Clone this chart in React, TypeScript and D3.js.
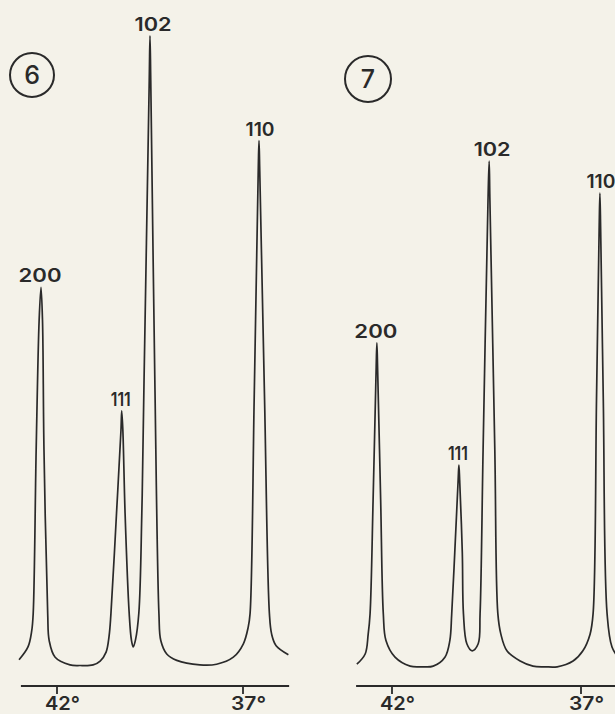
import React, { useRef, useEffect } from "react";
import * as d3 from "d3";

const WIDTH = 615;
const HEIGHT = 714;

// diffraction traces: [2theta (deg), intensity (0-100)]
const pattern6: [number, number][] = [
    [43.02, 1.6], [42.78, 3.6], [42.68, 6.1], [42.64, 8.8], [42.56, 34.4], [42.48, 54.7],
    [42.43, 59.8], [42.39, 54.7], [42.35, 34.4], [42.25, 8.8], [42.21, 4.6], [42.05, 2.0],
    [41.65, 0.8], [41.38, 0.7], [41.03, 0.8], [40.84, 1.4], [40.68, 2.8], [40.60, 5.3],
    [40.55, 8.8], [40.40, 24.5], [40.28, 37.5], [40.26, 40.5], [40.23, 37.5], [40.17, 24.5],
    [40.06, 8.9], [40.00, 4.7], [39.95, 3.6], [39.89, 4.7], [39.80, 8.9], [39.72, 24.5],
    [39.66, 45.3], [39.52, 92.2], [39.50, 99.1], [39.48, 92.2], [39.37, 45.3], [39.26, 8.8],
    [39.21, 4.6], [39.05, 2.5], [38.78, 1.5], [38.16, 0.8], [37.71, 0.9], [37.26, 2.0],
    [36.99, 4.1], [36.86, 6.7], [36.81, 8.8], [36.70, 42.2], [36.59, 78.1], [36.57, 82.7],
    [36.55, 78.1], [36.42, 42.2], [36.29, 8.8], [36.23, 5.6], [36.11, 3.8], [35.78, 2.4],
];

const pattern7: [number, number][] = [
    [42.93, 0.9], [42.71, 2.5], [42.63, 5.6], [42.58, 8.8], [42.50, 26.6], [42.42, 46.9],
    [42.40, 51.1], [42.38, 46.9], [42.30, 26.6], [42.23, 8.8], [42.16, 4.6], [41.92, 2.0],
    [41.52, 0.6], [41.21, 0.5], [40.91, 0.6], [40.60, 2.0], [40.47, 4.6], [40.42, 8.8],
    [40.34, 18.3], [40.25, 29.7], [40.23, 32.0], [40.21, 29.7], [40.14, 18.3], [40.11, 8.8],
    [40.02, 4.1], [39.88, 3.0], [39.72, 4.1], [39.67, 8.8], [39.59, 34.4], [39.46, 73.4],
    [39.43, 79.5], [39.41, 73.4], [39.28, 34.4], [39.20, 8.8], [39.12, 5.6], [38.96, 3.0],
    [38.61, 1.4], [38.27, 0.6], [37.95, 0.5], [37.63, 0.5], [37.21, 1.4], [36.95, 3.0],
    [36.76, 5.6], [36.68, 8.8], [36.59, 42.2], [36.52, 68.8], [36.50, 74.5], [36.48, 68.8],
    [36.41, 42.2], [36.31, 8.8], [36.18, 3.6], [35.97, 1.6],
];

// reflections (hkl) and the 2theta of their apex
const reflections = ["200", "111", "102", "110"];
const peaks6 = [42.43, 40.26, 39.50, 36.57];
const peaks7 = [42.40, 40.23, 39.43, 36.50];

const tickValues = [42, 37];

const panels = [
    { id: "6", data: pattern6, peaks: peaks6, t42: 57, t37: 243, from: 42.97, to: 35.76, cx: 32, cy: 75, r: 22 },
    { id: "7", data: pattern7, peaks: peaks7, t42: 392, t37: 581, from: 42.95, to: 35.5, cx: 368, cy: 79, r: 23 },
];

const INK = "#2a2a2a";
const FONT = "Inter, 'DejaVu Sans', sans-serif";
const labelWidth: Record<string, number> = { "200": 43, "111": 20, "102": 37, "110": 29 };
const labelShift: Record<string, number> = { "200": -1, "111": -1, "102": 3, "110": 1 };

const App = () => {
    const ref = useRef<SVGSVGElement>(null);

    useEffect(() => {
        const svg = d3.select(ref.current);
        svg.selectAll("*").remove();

        svg.append("rect")
            .attr("width", WIDTH)
            .attr("height", HEIGHT)
            .attr("fill", "#f4f2e9");

        const y = d3.scaleLinear().domain([0, 100]).range([670, 30]);
        const axisY = 686;

        panels.forEach(p => {
            const x = d3.scaleLinear().domain([42, 37]).range([p.t42, p.t37]);
            const g = svg.append("g");

            const line = d3.line<[number, number]>()
                .x(d => x(d[0]))
                .y(d => y(d[1]))
                .curve(d3.curveCatmullRom.alpha(0.5));

            g.append("path")
                .datum(p.data)
                .attr("fill", "none")
                .attr("stroke", INK)
                .attr("stroke-width", 1.7)
                .attr("stroke-linejoin", "round")
                .attr("d", line);

            // hkl labels above each apex
            reflections.forEach((hkl, i) => {
                const angle = p.peaks[i];
                const apex = p.data.reduce((a, b) => Math.abs(b[0] - angle) < Math.abs(a[0] - angle) ? b : a);
                g.append("text")
                    .attr("x", x(apex[0]) + labelShift[hkl])
                    .attr("y", y(apex[1]) - 5)
                    .attr("text-anchor", "middle")
                    .attr("textLength", labelWidth[hkl])
                    .attr("lengthAdjust", "spacingAndGlyphs")
                    .style("font-family", FONT)
                    .style("font-size", "19px")
                    .style("font-weight", 600)
                    .attr("fill", INK)
                    .text(hkl);
            });

            // 2theta axis
            g.append("line")
                .attr("x1", x(p.from))
                .attr("x2", x(p.to))
                .attr("y1", axisY)
                .attr("y2", axisY)
                .attr("stroke", INK)
                .attr("stroke-width", 2);

            tickValues.forEach(t => {
                g.append("line")
                    .attr("x1", x(t))
                    .attr("x2", x(t))
                    .attr("y1", axisY)
                    .attr("y2", axisY + 8)
                    .attr("stroke", INK)
                    .attr("stroke-width", 1.8);
                g.append("text")
                    .attr("x", x(t) - 12)
                    .attr("y", 710)
                    .attr("textLength", 35)
                    .attr("lengthAdjust", "spacingAndGlyphs")
                    .style("font-family", FONT)
                    .style("font-size", "19px")
                    .style("font-weight", 600)
                    .attr("fill", INK)
                    .text(`${t}°`);
            });

            // circled sample number
            g.append("circle")
                .attr("cx", p.cx)
                .attr("cy", p.cy)
                .attr("r", p.r)
                .attr("fill", "none")
                .attr("stroke", INK)
                .attr("stroke-width", 2);
            g.append("text")
                .attr("x", p.cx)
                .attr("y", p.cy + 9)
                .attr("text-anchor", "middle")
                .style("font-family", FONT)
                .style("font-size", "25px")
                .style("font-weight", 500)
                .attr("fill", INK)
                .text(p.id);
        });
    }, []);

    return (
        <svg ref={ref} width={WIDTH} height={HEIGHT}
            style={{ position: "absolute", left: 0, top: 0, display: "block" }} />
    );
};

export default App;
